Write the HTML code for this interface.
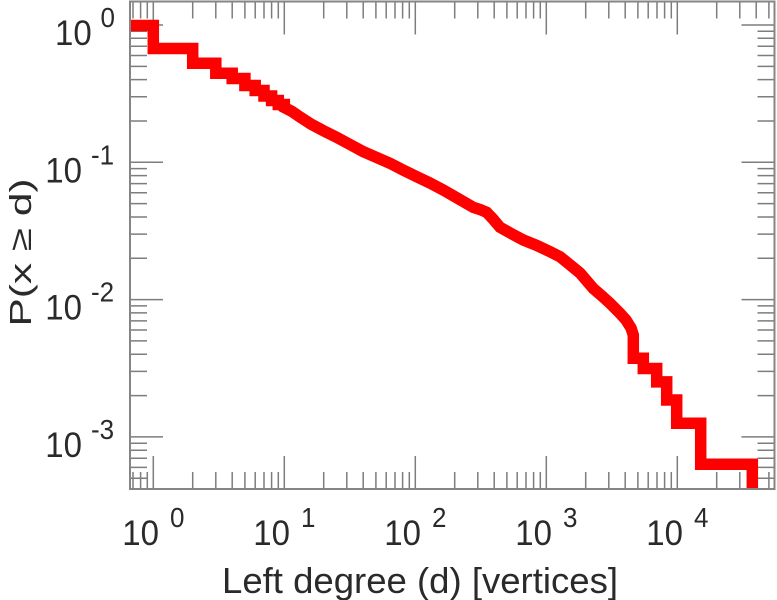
<!DOCTYPE html>
<html>
<head>
<meta charset="utf-8">
<style>
  html, body { margin: 0; padding: 0; background: #ffffff; }
  svg { display: block; }
  text { font-family: "Liberation Sans", "DejaVu Sans", sans-serif; fill: #2a2a2a; }
</style>
</head>
<body>
<svg width="777" height="600" viewBox="0 0 777 600" xmlns="http://www.w3.org/2000/svg">
  <rect x="0" y="0" width="777" height="600" fill="#ffffff"/>
  <defs>
    <clipPath id="plot"><rect x="131" y="2.5" width="642.5" height="485.5"/></clipPath>
  </defs>

  <!-- ticks -->
  <g stroke="#7d7d7d" stroke-width="1.5" fill="none">
    <path d="M133.0,489v-17M140.6,489v-17M147.3,489v-17M192.7,489v-17M215.8,489v-17M232.2,489v-17M244.9,489v-17M255.2,489v-17M264.0,489v-17M271.6,489v-17M278.3,489v-17M323.7,489v-17M346.8,489v-17M363.2,489v-17M375.9,489v-17M386.2,489v-17M395.0,489v-17M402.6,489v-17M409.3,489v-17M454.7,489v-17M477.8,489v-17M494.2,489v-17M506.9,489v-17M517.2,489v-17M526.0,489v-17M533.6,489v-17M540.3,489v-17M585.7,489v-17M608.8,489v-17M625.2,489v-17M637.9,489v-17M648.2,489v-17M657.0,489v-17M664.6,489v-17M671.3,489v-17M716.7,489v-17M739.8,489v-17M756.2,489v-17M768.9,489v-17"/>
    <path d="M153.3,489v-33M284.3,489v-33M415.3,489v-33M546.3,489v-33M677.3,489v-33"/>
    <path d="M133.0,1.5v17M140.6,1.5v17M147.3,1.5v17M192.7,1.5v17M215.8,1.5v17M232.2,1.5v17M244.9,1.5v17M255.2,1.5v17M264.0,1.5v17M271.6,1.5v17M278.3,1.5v17M323.7,1.5v17M346.8,1.5v17M363.2,1.5v17M375.9,1.5v17M386.2,1.5v17M395.0,1.5v17M402.6,1.5v17M409.3,1.5v17M454.7,1.5v17M477.8,1.5v17M494.2,1.5v17M506.9,1.5v17M517.2,1.5v17M526.0,1.5v17M533.6,1.5v17M540.3,1.5v17M585.7,1.5v17M608.8,1.5v17M625.2,1.5v17M637.9,1.5v17M648.2,1.5v17M657.0,1.5v17M664.6,1.5v17M671.3,1.5v17M716.7,1.5v17M739.8,1.5v17M756.2,1.5v17M768.9,1.5v17"/>
    <path d="M153.3,1.5v33M284.3,1.5v33M415.3,1.5v33M546.3,1.5v33M677.3,1.5v33"/>
    <path d="M130,31.28h17M130,38.3h17M130,46.27h17M130,55.46h17M130,66.33h17M130,79.64h17M130,96.79h17M130,120.97h17M130,168.58h17M130,175.6h17M130,183.57h17M130,192.76h17M130,203.63h17M130,216.94h17M130,234.09h17M130,258.27h17M130,305.88h17M130,312.9h17M130,320.87h17M130,330.06h17M130,340.93h17M130,354.24h17M130,371.39h17M130,395.57h17M130,443.2h17M130,450.2h17M130,458.2h17M130,467.4h17M130,478.2h17"/>
    <path d="M130,25h33M130,162.3h33M130,299.6h33M130,436.9h33"/>
    <path d="M774.5,31.28h-17M774.5,38.3h-17M774.5,46.27h-17M774.5,55.46h-17M774.5,66.33h-17M774.5,79.64h-17M774.5,96.79h-17M774.5,120.97h-17M774.5,168.58h-17M774.5,175.6h-17M774.5,183.57h-17M774.5,192.76h-17M774.5,203.63h-17M774.5,216.94h-17M774.5,234.09h-17M774.5,258.27h-17M774.5,305.88h-17M774.5,312.9h-17M774.5,320.87h-17M774.5,330.06h-17M774.5,340.93h-17M774.5,354.24h-17M774.5,371.39h-17M774.5,395.57h-17M774.5,443.2h-17M774.5,450.2h-17M774.5,458.2h-17M774.5,467.4h-17M774.5,478.2h-17"/>
    <path d="M774.5,25h-33M774.5,162.3h-33M774.5,299.6h-33M774.5,436.9h-33"/>
  </g>

  <!-- frame -->
  <rect x="130" y="1.5" width="644.5" height="487.5" fill="none" stroke="#858585" stroke-width="2"/>

  <!-- data -->
  <g clip-path="url(#plot)">
    <path fill="none" stroke="#ff0000" stroke-width="11.5" stroke-linejoin="miter" stroke-miterlimit="10"
      d="M120,25.5 H153.3 V48.5 H192.7 V63.3 H215.8 V73.3 H232.2 V78.5 H244.9 V85.5 H255.2 V90.5 H264 V96 H271.6 V100.5 H278.3 V104.5 H284.3 V107.5 L292,111.5 L300,117 L310.8,124 L323,130.5 L336.7,137.3 L350,144.5 L363.3,151.7 L376.7,157.5 L390,163.3 L403,170 L416.7,176.7 L430,183 L443.3,190 L458,198.5 L473.3,207.3 L480,209.5 L486.7,212.3 L493,219 L500,227.3 L512,234 L523.3,240 L537,245.5 L550,251.7 L560,256.7 L573.3,267.5 L580,273 L593.3,288.5 L602,296 L610,303.3 L620,313.3 L626,320 L631,328 L633.3,335 V358.3 H643.3 V368.5 H656.7 V381.9 H666.7 V400 H676.7 V423.3 H700.7 V464.3 H752.3 V505"/>
  </g>

  <!-- y tick labels -->
  <g font-size="33">
    <text transform="translate(91.7,45) scale(1,1.08)" text-anchor="end">10</text>
    <text transform="translate(82,182.3) scale(1,1.08)" text-anchor="end">10</text>
    <text transform="translate(82,319.6) scale(1,1.08)" text-anchor="end">10</text>
    <text transform="translate(82,456.9) scale(1,1.08)" text-anchor="end">10</text>
  </g>
  <g font-size="26">
    <text transform="translate(100.5,27) scale(1,1.08)">0</text>
    <text transform="translate(91,164.3) scale(1,1.08)">-1</text>
    <text transform="translate(91,301.6) scale(1,1.08)">-2</text>
    <text transform="translate(91,438.9) scale(1,1.08)">-3</text>
  </g>

  <!-- x tick labels -->
  <g font-size="33">
    <text transform="translate(122.3,545) scale(1,1.08)">10</text>
    <text transform="translate(253.3,545) scale(1,1.08)">10</text>
    <text transform="translate(384.3,545) scale(1,1.08)">10</text>
    <text transform="translate(515.3,545) scale(1,1.08)">10</text>
    <text transform="translate(646.3,545) scale(1,1.08)">10</text>
  </g>
  <g font-size="26">
    <text transform="translate(170,527) scale(1,1.08)">0</text>
    <text transform="translate(301,527) scale(1,1.08)">1</text>
    <text transform="translate(432,527) scale(1,1.08)">2</text>
    <text transform="translate(563,527) scale(1,1.08)">3</text>
    <text transform="translate(694,527) scale(1,1.08)">4</text>
  </g>

  <!-- axis titles -->
  <text x="420" y="593" font-size="36" text-anchor="middle" textLength="396" lengthAdjust="spacingAndGlyphs">Left degree (d) [vertices]</text>
  <text transform="translate(31,252.5) rotate(-90)" x="0" y="0" font-size="31" text-anchor="middle" textLength="148" lengthAdjust="spacingAndGlyphs">P(x ≥ d)</text>
</svg>
</body>
</html>
